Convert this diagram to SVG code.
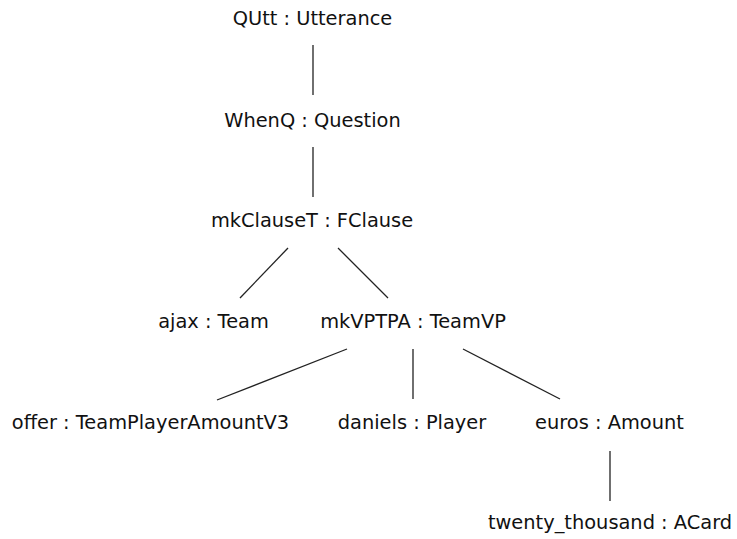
<svg xmlns="http://www.w3.org/2000/svg" width="737" height="539" viewBox="0 0 737 539">
  <style>
    .bg { fill: #ffffff; }
    .lbl { font-family: "DejaVu Sans", Verdana, sans-serif; font-size: 19.4px; fill: #111111; text-anchor: middle; }
    .edge { stroke: #222222; stroke-width: 1.3; fill: none; }
  </style>
  <rect class="bg" x="0" y="0" width="737" height="539"/>

  <!-- tree edges -->
  <g id="edges">
    <line class="edge" x1="313" y1="45" x2="313" y2="95"/>
    <line class="edge" x1="313" y1="147" x2="313" y2="197"/>
    <line class="edge" x1="288" y1="248" x2="240" y2="298"/>
    <line class="edge" x1="338" y1="248" x2="388" y2="298"/>
    <line class="edge" x1="347" y1="349" x2="217" y2="400"/>
    <line class="edge" x1="413" y1="349" x2="413" y2="399"/>
    <line class="edge" x1="463" y1="349" x2="560" y2="399"/>
    <line class="edge" x1="610" y1="451" x2="610" y2="501"/>
  </g>

  <!-- tree nodes -->
  <g id="n-qutt"><text class="lbl" x="312.5" y="25">QUtt : Utterance</text></g>
  <g id="n-whenq"><text class="lbl" x="312.5" y="127">WhenQ : Question</text></g>
  <g id="n-mkclauset"><text class="lbl" x="312" y="227">mkClauseT : FClause</text></g>
  <g id="n-ajax"><text class="lbl" x="213.5" y="328">ajax : Team</text></g>
  <g id="n-mkvptpa"><text class="lbl" x="413" y="328">mkVPTPA : TeamVP</text></g>
  <g id="n-offer"><text class="lbl" x="150.5" y="429">offer : TeamPlayerAmountV3</text></g>
  <g id="n-daniels"><text class="lbl" x="412" y="429">daniels : Player</text></g>
  <g id="n-euros"><text class="lbl" x="609.5" y="429">euros : Amount</text></g>
  <g id="n-twenty"><text class="lbl" x="610" y="529">twenty_thousand : ACard</text></g>
</svg>
